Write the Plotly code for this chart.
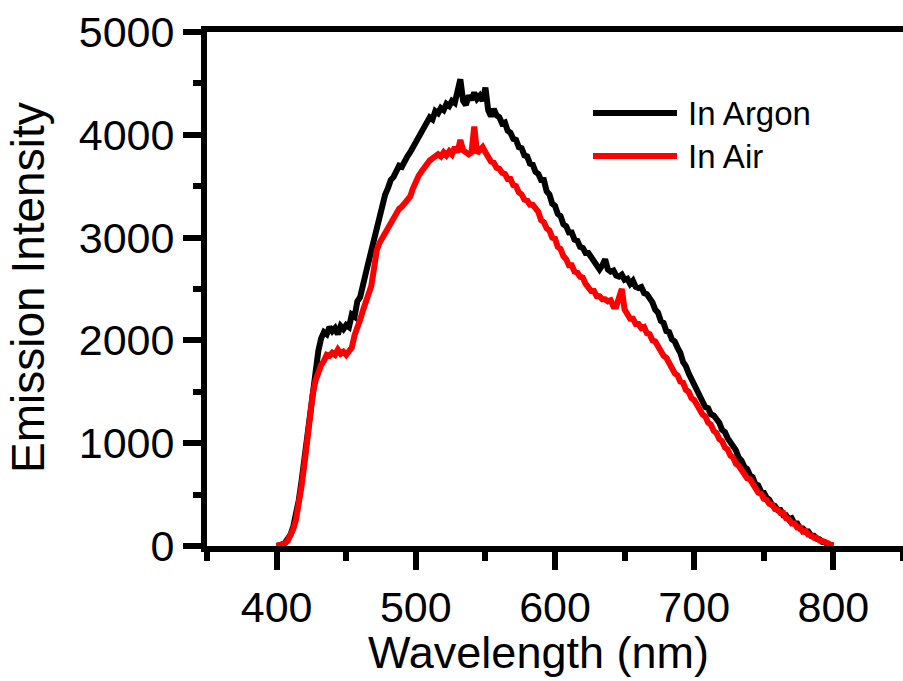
import plotly.graph_objects as go

# Wavelength grid (nm), 2 nm steps
wavelength = [
    400, 402, 404, 406, 408, 410, 412, 414, 416, 418,
    420, 422, 424, 426, 428, 430, 432, 434, 436, 438,
    440, 442, 444, 446, 448, 450, 452, 454, 456, 458,
    460, 462, 464, 466, 468, 470, 472, 474, 476, 478,
    480, 482, 484, 486, 488, 490, 492, 494, 496, 498,
    500, 502, 504, 506, 508, 510, 512, 514, 516, 518,
    520, 522, 524, 526, 528, 530, 532, 534, 536, 538,
    540, 542, 544, 546, 548, 550, 552, 554, 556, 558,
    560, 562, 564, 566, 568, 570, 572, 574, 576, 578,
    580, 582, 584, 586, 588, 590, 592, 594, 596, 598,
    600, 602, 604, 606, 608, 610, 612, 614, 616, 618,
    620, 622, 624, 626, 628, 630, 632, 634, 636, 638,
    640, 642, 644, 646, 648, 650, 652, 654, 656, 658,
    660, 662, 664, 666, 668, 670, 672, 674, 676, 678,
    680, 682, 684, 686, 688, 690, 692, 694, 696, 698,
    700, 702, 704, 706, 708, 710, 712, 714, 716, 718,
    720, 722, 724, 726, 728, 730, 732, 734, 736, 738,
    740, 742, 744, 746, 748, 750, 752, 754, 756, 758,
    760, 762, 764, 766, 768, 770, 772, 774, 776, 778,
    780, 782, 784, 786, 788, 790, 792, 794, 796, 798,
    800,
]

argon = [
    0, 5, 15, 30, 60, 110, 190, 300, 450, 640,
    860, 1100, 1350, 1570, 1760, 1900, 2020, 2080, 2060, 2130,
    2090, 2120, 2060, 2140, 2110, 2150, 2130, 2250, 2230, 2380,
    2420, 2560, 2650, 2760, 2880, 2990, 3120, 3240, 3330, 3420,
    3480, 3560, 3590, 3650, 3700, 3690, 3760, 3790, 3830, 3880,
    3910, 3960, 4000, 4060, 4110, 4170, 4150, 4230, 4210, 4260,
    4240, 4300, 4280, 4330, 4310, 4420, 4540, 4330, 4290, 4380,
    4340, 4410, 4350, 4380, 4330, 4460, 4240, 4180, 4250, 4190,
    4170, 4110, 4120, 4040, 4020, 3960, 3950, 3880, 3870, 3800,
    3790, 3720, 3710, 3640, 3620, 3560, 3560, 3450, 3420, 3330,
    3310, 3230, 3210, 3130, 3110, 3050, 3050, 2980, 2970, 2910,
    2900, 2850, 2850, 2810, 2770, 2720, 2690, 2730, 2790, 2690,
    2670, 2680, 2630, 2620, 2640, 2590, 2600, 2550, 2580, 2520,
    2510, 2520, 2460, 2450, 2410, 2370, 2300, 2270, 2190, 2170,
    2090, 2080, 2010, 1990, 1930, 1880, 1790, 1750, 1680, 1630,
    1560, 1530, 1470, 1430, 1350, 1340, 1280, 1270, 1240, 1200,
    1130, 1110, 1050, 1010, 950, 930, 860, 830, 770, 750,
    690, 670, 600, 590, 530, 520, 470, 450, 400, 390,
    350, 350, 300, 300, 260, 270, 220, 220, 170, 170,
    140, 140, 100, 100, 70, 65, 40, 35, 15, 12,
    5,
]

air = [
    0, 5, 12, 25, 50, 95, 165, 260, 400, 590,
    800, 1070, 1300, 1480, 1610, 1700, 1760, 1800, 1860, 1850,
    1880, 1860, 1910, 1870, 1890, 1860, 1900, 1930, 2050, 2110,
    2200, 2290, 2370, 2450, 2530, 2700, 2880, 2950, 3000, 3040,
    3090, 3150, 3200, 3260, 3280, 3300, 3340, 3380, 3400, 3480,
    3560, 3600, 3640, 3680, 3720, 3750, 3770, 3790, 3810, 3790,
    3830, 3800, 3840, 3810, 3880, 3830, 3950, 3850, 3830, 3810,
    3830, 4080, 3820, 3860, 3880, 3830, 3780, 3740, 3730, 3680,
    3670, 3630, 3620, 3570, 3570, 3510, 3500, 3440, 3420, 3370,
    3360, 3320, 3320, 3280, 3250, 3170, 3150, 3090, 3070, 3000,
    2990, 2910, 2890, 2820, 2790, 2730, 2730, 2670, 2660, 2620,
    2610, 2550, 2520, 2480, 2480, 2430, 2430, 2400, 2400, 2380,
    2390, 2330, 2330, 2400, 2500, 2300, 2260, 2210, 2210, 2160,
    2160, 2120, 2130, 2070, 2060, 2000, 1990, 1940, 1910, 1850,
    1830, 1770, 1740, 1680, 1660, 1600, 1590, 1520, 1500, 1440,
    1420, 1370, 1340, 1280, 1260, 1200, 1180, 1120, 1100, 1040,
    1020, 960, 940, 880, 860, 800, 780, 730, 710, 660,
    650, 600, 570, 520, 510, 460, 450, 410, 400, 360,
    355, 320, 320, 270, 260, 220, 220, 180, 180, 140,
    145, 110, 105, 80, 80, 55, 50, 30, 28, 12,
    5,
]

series_names = ["In Argon", "In Air"]
series_colors = ["#000000", "#ff0000"]

x_tickvals = [400, 500, 600, 700, 800]
y_tickvals = [0, 1000, 2000, 3000, 4000, 5000]

FONT = "Liberation Sans, Arial, sans-serif"

fig = go.Figure()
for name, vals, col in zip(series_names, [argon, air], series_colors):
    fig.add_trace(go.Scatter(x=wavelength, y=vals, mode="lines", name=name,
                             line=dict(color=col, width=6), showlegend=False))

axis_common = dict(
    showline=True, linecolor="black", linewidth=6, mirror=True,
    showgrid=False, zeroline=False, automargin=False,
    ticks="outside", ticklen=18, tickwidth=6, tickcolor="black",
    tickfont=dict(family=FONT, size=43, color="black"),
)

fig.update_xaxes(range=[350, 850], tickvals=x_tickvals,
                 minor=dict(dtick=50, tick0=350, ticks="outside", ticklen=9,
                            tickwidth=6, tickcolor="black"),
                 **axis_common)
fig.update_yaxes(range=[0, 5000], tickvals=y_tickvals,
                 minor=dict(dtick=500, tick0=0, ticks="outside", ticklen=8,
                            tickwidth=6, tickcolor="black"),
                 **axis_common)

# Custom legend (long line samples)
W, H = 903, 681
ml, mr, mt, mb = 207, 0, 32, 135
pw, ph = W - ml - mr, H - mt - mb
def px_x(p):
    return (p - ml) / pw
def px_y(p):
    return (H - mb - p) / ph

shapes = []
annotations = []
for i, (name, col) in enumerate(zip(series_names, series_colors)):
    yy = px_y(113 + 43 * i)
    shapes.append(dict(type="line", xref="paper", yref="paper",
                       x0=px_x(593), x1=px_x(677), y0=yy, y1=yy,
                       line=dict(color=col, width=6)))
    annotations.append(dict(xref="paper", yref="paper", x=px_x(686), y=yy,
                            xanchor="left", yanchor="middle", text=name,
                            showarrow=False,
                            font=dict(family=FONT, size=33, color="black")))

annotations.append(dict(xref="paper", yref="paper", x=px_x(538), y=px_y(652),
                        xanchor="center", yanchor="middle", text="Wavelength (nm)",
                        showarrow=False, font=dict(family=FONT, size=45, color="black")))
annotations.append(dict(xref="paper", yref="paper", x=px_x(28), y=px_y(288),
                        xanchor="center", yanchor="middle", text="Emission Intensity",
                        textangle=-90, showarrow=False,
                        font=dict(family=FONT, size=46, color="black")))

fig.update_layout(width=W, height=H, margin=dict(l=ml, r=mr, t=mt, b=mb),
                  plot_bgcolor="white", paper_bgcolor="white",
                  shapes=shapes, annotations=annotations, showlegend=False)

fig.write_html("out.html")
